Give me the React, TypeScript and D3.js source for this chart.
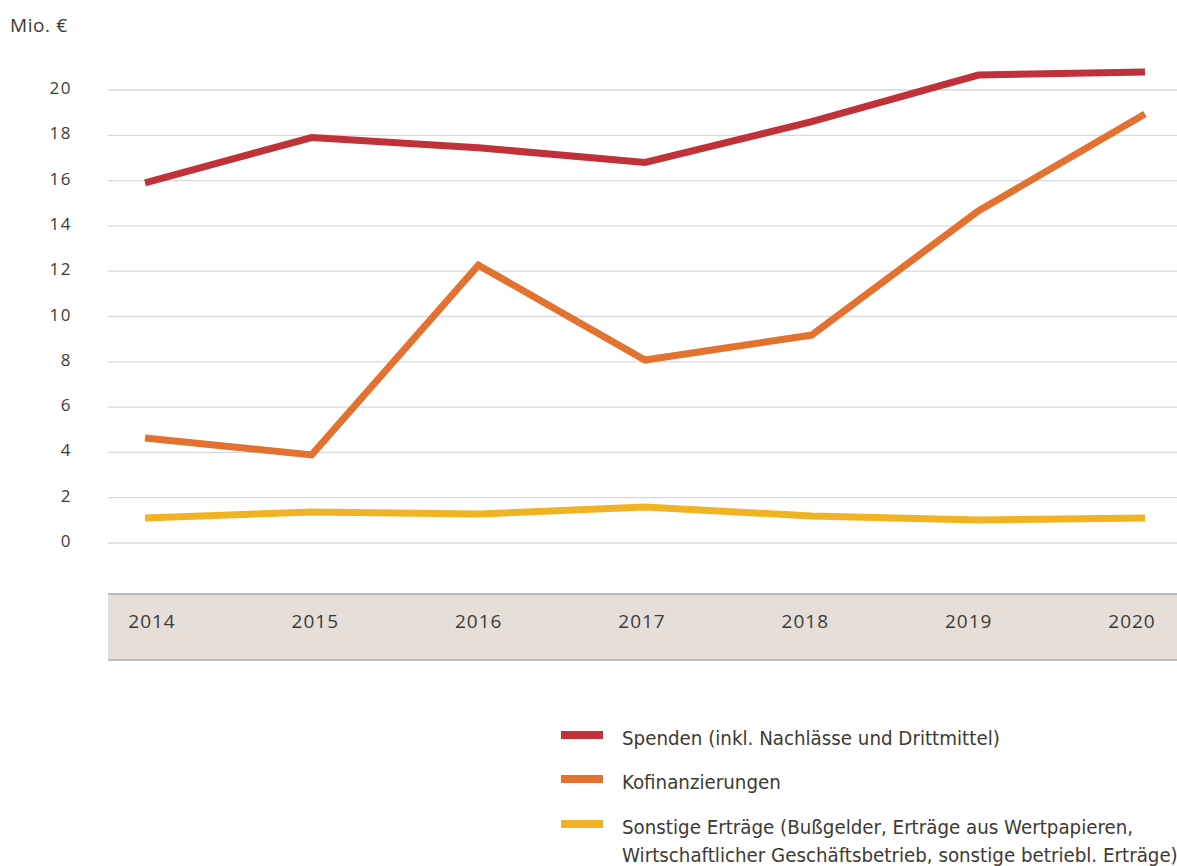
import React from "react";
import * as d3 from "d3";

const years = ["2014", "2015", "2016", "2017", "2018", "2019", "2020"];
const spenden = [15.9, 17.9, 17.45, 16.8, 18.6, 20.66, 20.8];
const kofinanz = [4.64, 3.89, 12.27, 8.08, 9.18, 14.66, 18.94];
const sonstige = [1.1, 1.37, 1.28, 1.59, 1.19, 1.02, 1.1];
const yTicks = [0, 2, 4, 6, 8, 10, 12, 14, 16, 18, 20];

const seriesNames = [
  ["Spenden (inkl. Nachlässe und Drittmittel)"],
  ["Kofinanzierungen"],
  ["Sonstige Erträge (Bußgelder, Erträge aus Wertpapieren,", "Wirtschaftlicher Geschäftsbetrieb, sonstige betriebl. Erträge)"],
];
const colors = ["#c0313a", "#e3712f", "#efb323"];

export default function App() {
  const W = 1177, H = 866;
  const x = d3.scalePoint<string>().domain(years).range([145, 1145]);
  const xLab = d3.scalePoint<string>().domain(years).range([152, 1132]);
  const y = d3.scaleLinear().domain([0, 20]).range([543, 90]);
  const line = d3
    .line<number>()
    .x((_, i) => x(years[i]) as number)
    .y((d) => y(d));
  const all = [spenden, kofinanz, sonstige];
  const textColor = "#3d3a34";
  const font = "'Open Sans', sans-serif";
  const legendFont = "'Liberation Sans Narrow', 'DejaVu Sans Condensed', 'Open Sans', sans-serif";
  const legendY = [735, 779, 824];
  return (
    <div style={{ position: "absolute", left: 0, top: 0 }}>
      <svg width={W} height={H} style={{ display: "block" }}>
        <rect width={W} height={H} fill="#fff" />
        <text x={10} y={32} fontFamily={font} fontSize={19} fill={textColor} letterSpacing={0.6}>
          Mio. €
        </text>
        {yTicks.map((t) => (
          <g key={t}>
            <line x1={108} x2={W} y1={y(t)} y2={y(t)} stroke="#d9d9d9" strokeWidth={1.3} />
            <text
              x={72}
              y={y(t) + 4}
              textAnchor="end"
              fontFamily={font}
              fontSize={17}
              fill={textColor}
              letterSpacing={1.5}
            >
              {t}
            </text>
          </g>
        ))}
        <rect x={108} y={594} width={W - 108} height={66} fill="#e6ded9" />
        <line x1={108} x2={W} y1={594} y2={594} stroke="#aaa" strokeWidth={1.3} />
        <line x1={108} x2={W} y1={660} y2={660} stroke="#aaa" strokeWidth={1.3} />
        {years.map((yr) => (
          <text
            key={yr}
            x={xLab(yr)}
            y={628}
            textAnchor="middle"
            fontFamily={font}
            fontSize={19}
            fill={textColor}
            letterSpacing={1}
          >
            {yr}
          </text>
        ))}
        {all.map((s, i) => (
          <path key={i} d={line(s) as string} fill="none" stroke={colors[i]} strokeWidth={7} strokeLinejoin="miter" />
        ))}
        {seriesNames.map((lines, i) => (
          <g key={i}>
            <rect x={561} y={legendY[i] - 4} width={42} height={8} fill={colors[i]} />
            {lines.map((l, j) => (
              <text
                key={j}
                x={622}
                y={legendY[i] + 10 + j * 28}
                fontFamily={legendFont}
                fontSize={20.3}
                fill={textColor}
              >
                {l}
              </text>
            ))}
          </g>
        ))}
      </svg>
    </div>
  );
}
